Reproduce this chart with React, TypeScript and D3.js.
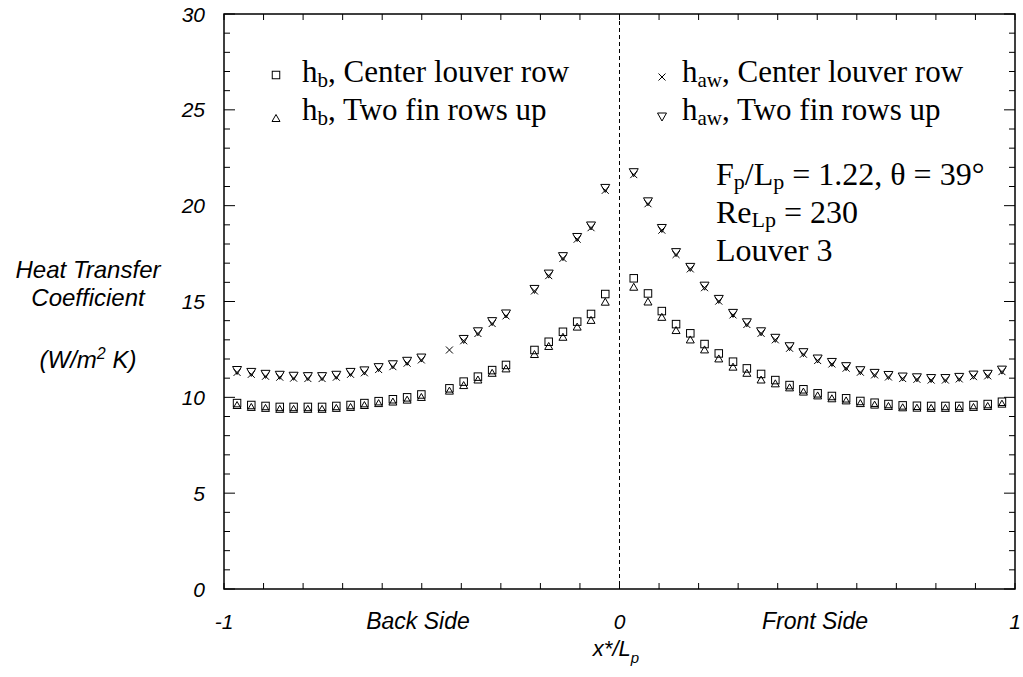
import * as d3 from "d3";

// x positions along the louver (x*/Lp)
const xLeft = [-0.967, -0.931, -0.895, -0.859, -0.824, -0.788, -0.752, -0.716, -0.68, -0.645, -0.609, -0.573, -0.537, -0.501];
const xMid1 = [-0.43, -0.394, -0.358, -0.322, -0.287];
const xMid2 = [-0.215, -0.179, -0.143, -0.107, -0.072, -0.036];
const xRight = [0.036, 0.072, 0.107, 0.143, 0.179, 0.215, 0.251, 0.287, 0.322, 0.358, 0.394, 0.43, 0.465, 0.501,
  0.537, 0.573, 0.609, 0.645, 0.68, 0.716, 0.752, 0.788, 0.824, 0.859, 0.895, 0.931, 0.967];
const xPos = [...xLeft, ...xMid1, ...xMid2, ...xRight];

// h_b, center louver row (squares)
const hbCenter = [
  9.7, 9.6, 9.55, 9.5, 9.5, 9.5, 9.5, 9.55, 9.6, 9.7, 9.8, 9.9, 10.0, 10.15,
  10.47, 10.82, 11.08, 11.42, 11.69,
  12.47, 12.9, 13.42, 13.95, 14.35, 15.39,
  16.21, 15.42, 14.5, 13.82, 13.34, 12.78, 12.29, 11.86, 11.51, 11.22, 10.9, 10.64, 10.42, 10.21,
  10.07, 9.95, 9.81, 9.72, 9.65, 9.58, 9.56, 9.55, 9.55, 9.55, 9.6, 9.65, 9.77,
];
// h_b, two fin rows up (triangles)
const hbTwo = [
  9.6, 9.5, 9.45, 9.4, 9.4, 9.4, 9.4, 9.45, 9.5, 9.6, 9.7, 9.78, 9.88, 10.02,
  10.35, 10.64, 10.93, 11.28, 11.51,
  12.26, 12.68, 13.16, 13.69, 14.04, 14.99,
  15.77, 15.0, 14.2, 13.51, 13.02, 12.5, 12.03, 11.6, 11.28, 10.93, 10.73, 10.52, 10.3, 10.1,
  9.95, 9.84, 9.7, 9.62, 9.55, 9.48, 9.46, 9.45, 9.45, 9.45, 9.5, 9.55, 9.67,
];
// h_aw, center louver row (crosses)
const hawCenter = [
  11.3, 11.2, 11.1, 11.05, 11.0, 10.98, 10.98, 11.05, 11.2, 11.28, 11.45, 11.6, 11.78, 11.95,
  12.47, 12.95, 13.33, 13.85, 14.25,
  15.55, 16.35, 17.25, 18.25, 18.85, 20.8,
  21.62, 20.1, 18.72, 17.45, 16.7, 15.72, 15.02, 14.3, 13.8, 13.34, 13.0, 12.56, 12.25, 11.92,
  11.74, 11.52, 11.31, 11.17, 11.06, 10.98, 10.94, 10.9, 10.9, 10.96, 11.08, 11.12, 11.34,
];
// h_aw, two fin rows up (inverted triangles)
const hawTwo = [
  11.4, 11.3, 11.2, 11.15, 11.1, 11.08, 11.08, 11.15, 11.3, 11.38, 11.55, 11.7, 11.88, 12.05,
  null, 13.02, 13.42, 13.95, 14.35,
  15.63, 16.43, 17.34, 18.34, 18.94, 20.9,
  21.72, 20.2, 18.81, 17.55, 16.78, 15.8, 15.11, 14.38, 13.89, 13.42, 13.08, 12.64, 12.33, 12.0,
  11.82, 11.6, 11.39, 11.25, 11.14, 11.06, 11.02, 10.98, 10.98, 11.04, 11.16, 11.2, 11.42,
];

const yTicks = [0, 5, 10, 15, 20, 25, 30];
const xTickLabels = [
  { v: -1, t: "-1" },
  { v: 0, t: "0" },
  { v: 1, t: "1" },
];

const W = 1023;
const H = 677;
const left = 224, right = 1015, top = 14, bottom = 589;

const sans = "'Liberation Sans', Arial, sans-serif";
const serif = "'Liberation Serif', 'Times New Roman', serif";

function marker(kind: string, x: number, y: number, key: string | number) {
  if (kind === "square") {
    const s = 7.5;
    return <rect key={key} x={x - s / 2} y={y - s / 2} width={s} height={s} fill="none" stroke="#000" strokeWidth={1} />;
  }
  if (kind === "tri") {
    const s = 8;
    const h = 7;
    return <path key={key} d={`M${x - s / 2},${y + h / 2}L${x + s / 2},${y + h / 2}L${x},${y - h / 2}Z`} fill="none" stroke="#000" strokeWidth={1} />;
  }
  if (kind === "itri") {
    const s = 9;
    const h = 8;
    return <path key={key} d={`M${x - s / 2},${y - h / 2}L${x + s / 2},${y - h / 2}L${x},${y + h / 2}Z`} fill="none" stroke="#000" strokeWidth={1} />;
  }
  const r = 3.5;
  return <path key={key} d={`M${x - r},${y - r}L${x + r},${y + r}M${x - r},${y + r}L${x + r},${y - r}`} fill="none" stroke="#000" strokeWidth={1} />;
}

export default function App() {
  const x = d3.scaleLinear().domain([-1, 1]).range([left, right]);
  const y = d3.scaleLinear().domain([0, 30]).range([bottom, top]);

  const minorY = d3.range(0, 31, 1);
  const minorX = d3.range(-10, 11, 1).map((d) => d / 10);

  const series: { kind: string; vals: (number | null)[] }[] = [
    { kind: "square", vals: hbCenter },
    { kind: "tri", vals: hbTwo },
    { kind: "cross", vals: hawCenter },
    { kind: "itri", vals: hawTwo },
  ];

  return (
    <svg width={W} height={H} style={{ display: "block", position: "absolute", left: 0, top: 0, background: "#fff" }}>
      {/* frame */}
      <rect x={left} y={top} width={right - left} height={bottom - top} fill="none" stroke="#000" strokeWidth={1.5} />
      {/* zero line */}
      <line x1={x(0)} x2={x(0)} y1={top} y2={bottom} stroke="#000" strokeWidth={1} strokeDasharray="4,3" />

      {/* y ticks both sides */}
      {minorY.map((v) => {
        const len = v % 5 === 0 ? 11 : 6;
        return (
          <g key={"yt" + v}>
            <line x1={left} x2={left + len} y1={y(v)} y2={y(v)} stroke="#000" strokeWidth={1} />
            <line x1={right - len} x2={right} y1={y(v)} y2={y(v)} stroke="#000" strokeWidth={1} />
          </g>
        );
      })}
      {/* x ticks top and bottom */}
      {minorX.map((v) => (
        <g key={"xt" + v}>
          <line x1={x(v)} x2={x(v)} y1={bottom} y2={bottom - 6} stroke="#000" strokeWidth={1} />
          <line x1={x(v)} x2={x(v)} y1={top} y2={top + 6} stroke="#000" strokeWidth={1} />
        </g>
      ))}

      {/* y tick labels */}
      {yTicks.map((v) => (
        <text key={"yl" + v} x={205} y={y(v) + 7.5} textAnchor="end" fontFamily={sans} fontStyle="italic" fontSize={21}>
          {v}
        </text>
      ))}
      {/* x tick labels */}
      {xTickLabels.map((d) => (
        <text key={"xl" + d.v} x={x(d.v)} y={629} textAnchor="middle" fontFamily={sans} fontStyle="italic" fontSize={21}>
          {d.t}
        </text>
      ))}
      <text x={418} y={629} textAnchor="middle" fontFamily={sans} fontStyle="italic" fontSize={23}>Back Side</text>
      <text x={815} y={629} textAnchor="middle" fontFamily={sans} fontStyle="italic" fontSize={23}>Front Side</text>
      <text x={616} y={656} textAnchor="middle" fontFamily={sans} fontStyle="italic" fontSize={22}>
        x*/L<tspan fontSize={15} dy={7}>p</tspan>
      </text>

      {/* y title */}
      <g fontFamily={sans} fontStyle="italic" fontSize={24} textAnchor="middle">
        <text x={88} y={278}>Heat Transfer</text>
        <text x={88} y={306}>Coefficient</text>
        <text x={88} y={368}>
          (W/m<tspan fontSize={16} dy={-9}>2</tspan>
          <tspan dy={9}> K)</tspan>
        </text>
      </g>

      {/* data */}
      {series.map((s) =>
        s.vals.map((v, i) => (v == null ? null : marker(s.kind, x(xPos[i]), y(v), s.kind + i)))
      )}

      {/* legend */}
      <g fontFamily={serif} fontSize={31}>
        {marker("square", 276, 75, "lg1")}
        <text x={302} y={82}>
          h<tspan fontSize={21} dy={5}>b</tspan><tspan dy={-5}>, Center louver row</tspan>
        </text>
        {marker("tri", 276, 118, "lg2")}
        <text x={302} y={120}>
          h<tspan fontSize={21} dy={5}>b</tspan><tspan dy={-5}>, Two fin rows up</tspan>
        </text>
        {marker("cross", 662, 77, "lg3")}
        <text x={682} y={82}>
          h<tspan fontSize={21} dy={5}>aw</tspan><tspan dy={-5}>, Center louver row</tspan>
        </text>
        {marker("itri", 662, 117, "lg4")}
        <text x={682} y={120}>
          h<tspan fontSize={21} dy={5}>aw</tspan><tspan dy={-5}>, Two fin rows up</tspan>
        </text>
      </g>
      <g fontFamily={serif} fontSize={32}>
        <text x={716} y={185}>
          F<tspan fontSize={22} dy={4}>p</tspan><tspan dy={-4}>/L</tspan><tspan fontSize={22} dy={4}>p</tspan>
          <tspan dy={-4}> = 1.22, θ = 39°</tspan>
        </text>
        <text x={716} y={223}>
          Re<tspan fontSize={22} dy={4}>Lp</tspan><tspan dy={-4}> = 230</tspan>
        </text>
        <text x={716} y={261}>Louver 3</text>
      </g>
    </svg>
  );
}
